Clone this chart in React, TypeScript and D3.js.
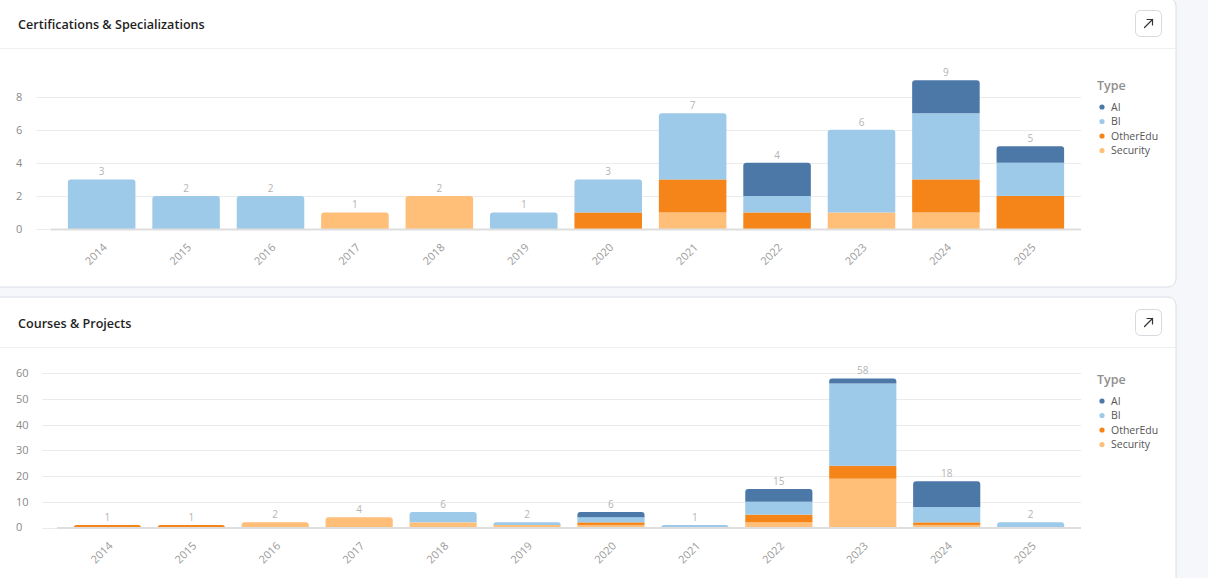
import * as d3 from "d3";

const years = ["2014", "2015", "2016", "2017", "2018", "2019", "2020", "2021", "2022", "2023", "2024", "2025"];
const types = ["AI", "BI", "OtherEdu", "Security"];
const typeColors = ["#4c78a8", "#9ecae9", "#f58518", "#ffbf79"];
// stacking order, bottom to top
const stackOrder = ["Security", "OtherEdu", "BI", "AI"];

// Certifications & Specializations
const certAI = [0, 0, 0, 0, 0, 0, 0, 0, 2, 0, 2, 1];
const certBI = [3, 2, 2, 0, 0, 1, 2, 4, 1, 5, 4, 2];
const certOtherEdu = [0, 0, 0, 0, 0, 0, 1, 2, 1, 0, 2, 2];
const certSecurity = [0, 0, 0, 1, 2, 0, 0, 1, 0, 1, 1, 0];
const certTicks = [0, 2, 4, 6, 8];

// Courses & Projects
const courseAI = [0, 0, 0, 0, 0, 0, 2, 0, 5, 2, 10, 0];
const courseBI = [0, 0, 0, 0, 4, 1, 2, 1, 5, 32, 6, 2];
const courseOtherEdu = [1, 1, 0, 0, 0, 0, 1, 0, 3, 5, 1, 0];
const courseSecurity = [0, 0, 2, 4, 2, 1, 1, 0, 2, 19, 1, 0];
const courseTicks = [0, 10, 20, 30, 40, 50, 60];

const FONT = "'Open Sans', 'Noto Sans', sans-serif";
const color = d3.scaleOrdinal<string, string>().domain(types).range(typeColors);

type Row = { year: string; [k: string]: number | string };

function toRows(ai: number[], bi: number[], oe: number[], sec: number[]): Row[] {
  return years.map((y, i) => ({ year: y, AI: ai[i], BI: bi[i], OtherEdu: oe[i], Security: sec[i] }));
}

// rect with only the top corners rounded
function topRounded(x: number, y: number, w: number, h: number, r: number) {
  const rr = Math.min(r, h, w / 2);
  return `M${x},${y + h}V${y + rr}Q${x},${y} ${x + rr},${y}H${x + w - rr}Q${x + w},${y} ${x + w},${y + rr}V${y + h}Z`;
}

function Card({ top, title }: { top: number; title: string }) {
  return (
    <g>
      <rect x={-10} y={top} width={1186} height={289} rx={8} fill="#fff" stroke="#dadee4" />
      <line x1={0} x2={1175} y1={top + 50.5} y2={top + 50.5} stroke="#eef0f2" />
      <text x={18} y={top + 31} fontFamily={FONT} fontSize={12.6} fontWeight={600} fill="#1f1f1f">
        {title}
      </text>
      <rect x={1135.5} y={top + 12.5} width={26} height={26} rx={5} fill="#fff" stroke="#d6d9de" />
      <g stroke="#333" strokeWidth={1.2} fill="none" strokeLinecap="round">
        <path d={`M1144.5,${top + 29.5}L1152.5,${top + 21.5}`} />
        <path d={`M1147,${top + 21.5}H1152.5V${top + 27}`} />
      </g>
    </g>
  );
}

function StackedChart({
  rows,
  ticks,
  yMax,
  y0,
  y1,
  gridX0,
  plotX0,
  legendY,
}: {
  rows: Row[];
  ticks: number[];
  yMax: number;
  y0: number;
  y1: number;
  gridX0: number;
  plotX0: number;
  legendY: number;
}) {
  const plotX1 = 1081;
  const x = d3.scaleBand().domain(years).range([plotX0, plotX1]).paddingInner(0.2).paddingOuter(0.2);
  const y = d3.scaleLinear().domain([0, yMax]).range([y0, y1]);
  const series = d3.stack<Row>().keys(stackOrder).value((d, k) => d[k] as number)(rows);

  // find topmost non-empty layer for each year
  const topLayer = rows.map((_, i) => {
    let top = -1;
    series.forEach((s, si) => {
      if (s[i][1] > s[i][0]) top = si;
    });
    return top;
  });

  return (
    <g>
      {ticks.map((t) => (
        <g key={t}>
          <line x1={gridX0} x2={plotX1} y1={Math.round(y(t)) + 0.5} y2={Math.round(y(t)) + 0.5} stroke="#ebebeb" />
          <text x={16} y={y(t)} dy="0.35em" fontFamily={FONT} fontSize={11} fill="#8a8a8a">
            {t}
          </text>
        </g>
      ))}
      {series.map((s, si) => (
        <g key={s.key} fill={color(s.key)}>
          {s.map((d, i) => {
            const h = y(d[0]) - y(d[1]);
            if (h <= 0) return null;
            const bx = x(years[i])!;
            const bw = x.bandwidth();
            if (topLayer[i] === si) {
              return <path key={i} d={topRounded(bx, y(d[1]), bw, h, 3)} />;
            }
            return <rect key={i} x={bx} y={y(d[1])} width={bw} height={h} />;
          })}
        </g>
      ))}
      <line x1={plotX0} x2={plotX1} y1={y0 + 0.5} y2={y0 + 0.5} stroke="#dedede" strokeWidth={2} />
      {rows.map((r, i) => {
        const total = stackOrder.reduce((a, k) => a + (r[k] as number), 0);
        const cx = x(r.year)! + x.bandwidth() / 2;
        return (
          <g key={r.year}>
            <text x={cx} y={y(total) - 4} textAnchor="middle" fontFamily={FONT} fontSize={10} fill="#b4b4b4">
              {total}
            </text>
            <text
              transform={`translate(${cx + 6},${y0 + 19}) rotate(-45)`}
              textAnchor="end"
              fontFamily={FONT}
              fontSize={11}
              fill="#9a9a9a"
            >
              {r.year}
            </text>
          </g>
        );
      })}
      <g transform={`translate(1097,${legendY})`}>
        <text x={0} y={0} fontFamily={FONT} fontSize={12.5} fontWeight={600} fill="#8f8f8f">
          Type
        </text>
        {types.map((t, i) => (
          <g key={t} transform={`translate(0,${17 + i * 14.5})`}>
            <circle cx={5} cy={0} r={2.6} fill={color(t)} />
            <text x={14} y={0} dy="0.35em" fontFamily={FONT} fontSize={10.5} fill="#555">
              {t}
            </text>
          </g>
        ))}
      </g>
    </g>
  );
}

export default function App() {
  const certRows = toRows(certAI, certBI, certOtherEdu, certSecurity);
  const courseRows = toRows(courseAI, courseBI, courseOtherEdu, courseSecurity);
  return (
    <div style={{ width: 1208, height: 578, overflow: "hidden", background: "#f5f7fa" }}>
      <style>{`body{margin:0}`}</style>
      <svg width={1208} height={578} style={{ display: "block" }}>
        <rect x={0} y={0} width={1208} height={578} fill="#f5f7fa" />
        <Card top={-2} title="Certifications & Specializations" />
        <Card top={297} title="Courses & Projects" />
        <StackedChart
          rows={certRows}
          ticks={certTicks}
          yMax={8}
          y0={229}
          y1={96.7}
          gridX0={36}
          plotX0={51}
          legendY={90}
        />
        <StackedChart
          rows={courseRows}
          ticks={courseTicks}
          yMax={60}
          y0={527.5}
          y1={373.3}
          gridX0={42}
          plotX0={57}
          legendY={384}
        />
      </svg>
    </div>
  );
}
